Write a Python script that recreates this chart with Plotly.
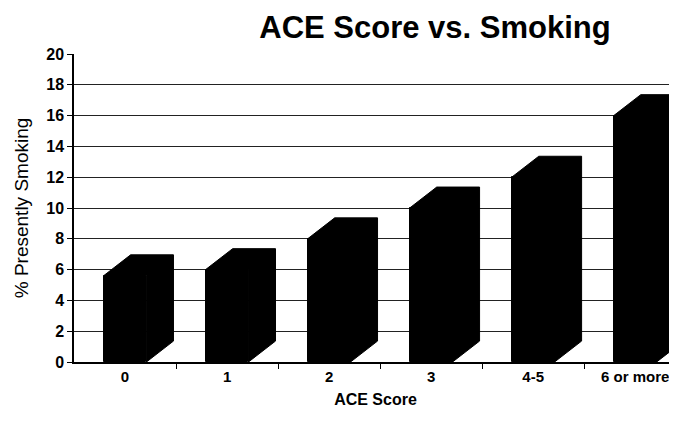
import plotly.graph_objects as go

categories = ["0", "1", "2", "3", "4-5", "6 or more"]
smoking_pct = [5.6, 6.0, 8.0, 10.0, 12.0, 16.0]

FONT = "Liberation Sans, Arial, sans-serif"
BAR_W = 0.42      # front face width (category units)
DEPTH_X = 0.265   # 3-D depth offset, category units
DEPTH_Y = 1.36    # 3-D depth offset, % units

# the page body adds an 8px margin, so the figure is 8px smaller to fit the window
W, H, PAD = 669, 415, 8

xs = list(range(len(categories)))

# top + side faces of the pseudo 3-D bars, built from the values
px_, py_ = [], []
for x, v in zip(xs, smoking_pct):
    l, r = x - BAR_W / 2, x + BAR_W / 2
    px_ += [l, l + DEPTH_X, r + DEPTH_X, r + DEPTH_X, r, r, l, None]
    py_ += [v, v + DEPTH_Y, v + DEPTH_Y, DEPTH_Y, 0, v, v, None]

fig = go.Figure()
fig.add_trace(go.Scatter(x=px_, y=py_, mode="lines", fill="toself",
                         fillcolor="black", line=dict(color="black", width=1),
                         hoverinfo="skip", showlegend=False))
fig.add_trace(go.Bar(x=xs, y=smoking_pct, width=BAR_W,
                     marker=dict(color="black", line=dict(color="black", width=1)),
                     showlegend=False))

fig.update_layout(
    width=W, height=H,
    margin=dict(l=74 - PAD, r=0, t=54 - PAD, b=H - (362 - PAD)),
    plot_bgcolor="white", paper_bgcolor="white",
    font=dict(family=FONT, color="black"),
    title=dict(text="ACE Score vs. Smoking", x=(435 - PAD) / W, xanchor="center",
               y=1 - 8 / H, yanchor="top",
               font=dict(family=FONT, size=31, weight="bold", color="black")),
    bargap=0,
)
fig.update_xaxes(
    range=[-0.5, 5.41], tickvals=xs, ticktext=categories, ticks="",
    automargin=False,
    showline=True, linecolor="black", linewidth=1.5, showgrid=False, zeroline=False,
    tickfont=dict(size=15, weight="bold"),
    minor=dict(tickvals=[i + 0.5 for i in xs], ticks="outside", ticklen=5,
               tickcolor="black", showgrid=False),
    title=dict(text="ACE Score", font=dict(size=16, weight="bold"), standoff=10),
)
fig.update_yaxes(
    range=[0, 20], dtick=2, ticks="outside", ticklen=5, tickcolor="black",
    automargin=False,
    showline=True, linecolor="black", linewidth=1.5,
    showgrid=True, gridcolor="#222222", gridwidth=1, zeroline=False,
    tickfont=dict(size=16, weight="bold"),
    title=dict(text="% Presently Smoking", font=dict(size=19), standoff=13),
)

fig.write_html("out.html")
